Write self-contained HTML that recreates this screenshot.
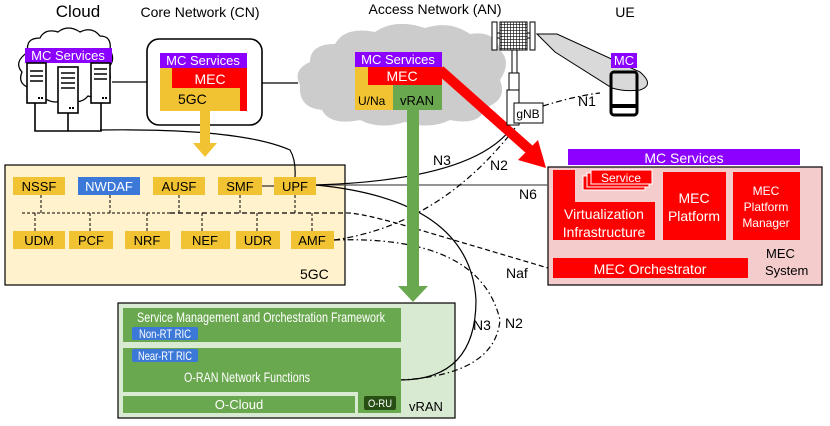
<!DOCTYPE html>
<html><head><meta charset="utf-8"><style>
html,body{margin:0;padding:0;background:#fff}
svg{display:block}
text{font-family:"Liberation Sans",sans-serif}
</style></head><body>
<svg width="830" height="426" viewBox="0 0 830 426" xmlns="http://www.w3.org/2000/svg">
<defs>
<pattern id="grid" width="3" height="3" patternUnits="userSpaceOnUse"><rect width="3" height="3" fill="#fff"/><path d="M0 0H3M0 0V3" stroke="#000" stroke-width="1.2"/></pattern>
</defs>
<text x="78" y="17" font-size="17" text-anchor="middle">Cloud</text>
<text x="200" y="17" font-size="14" text-anchor="middle">Core Network (CN)</text>
<text x="435" y="14" font-size="14" text-anchor="middle">Access Network (AN)</text>
<text x="625" y="17" font-size="14" text-anchor="middle">UE</text>

<line x1="112" y1="82" x2="147" y2="82" stroke="#000" stroke-width="1.3"/>
<line x1="262" y1="83" x2="298" y2="83" stroke="#000" stroke-width="1.3"/>

<path d="M28 52 Q25 38 40 38 Q45 28 58 32 Q68 24 80 32 Q92 26 100 36 Q112 36 110 50 Q116 60 108 68 Q114 80 104 88 Q100 100 88 96 Q80 106 66 98 Q56 106 44 98 Q30 100 30 88 Q17 84 22 72 Q13 62 28 52 Z" fill="#fff" stroke="#000" stroke-width="1.3"/>
<rect x="25" y="48" width="87" height="15" fill="#8b00ff"/>
<text x="68" y="60" font-size="13" fill="#fff" text-anchor="middle">MC Services</text>
<g stroke="#000" stroke-width="1.6" fill="#fff">
<rect x="27" y="63" width="19" height="40"/>
<rect x="58" y="67" width="20" height="46"/>
<rect x="91" y="63" width="19" height="40"/>
<path d="M35 103V131H101V103M68 113V131" fill="none"/>
<path d="M30 71h13M30 76h13M30 81h13M61 73h14M61 78h14M61 83h14M61 88h14M94 69h13M94 74h13M94 79h13" />
</g>
<g fill="#000"><rect x="38" y="97" width="2" height="2"/><rect x="41" y="97" width="2" height="2"/><rect x="69" y="107" width="2" height="2"/><rect x="72" y="107" width="2" height="2"/><rect x="102" y="97" width="2" height="2"/><rect x="105" y="97" width="2" height="2"/></g>

<rect x="147" y="39" width="115" height="86" rx="12" fill="#fff" stroke="#000" stroke-width="1.6"/>
<rect x="160" y="68" width="87" height="43" fill="#f1c232"/>
<path d="M172 68H247V111H240V88H172Z" fill="#f00"/>
<rect x="160" y="53" width="87" height="15" fill="#8b00ff"/>
<text x="203" y="65" font-size="13" fill="#fff" text-anchor="middle">MC Services</text>
<text x="210" y="84" font-size="14" fill="#fff" text-anchor="middle">MEC</text>
<text x="178" y="104" font-size="14">5GC</text>

<path d="M300 85 Q292 70 310 62 Q310 44 335 44 Q345 26 375 32 Q395 18 425 28 Q450 20 470 34 Q495 30 500 50 Q512 62 500 80 Q508 100 485 108 Q480 126 450 120 Q430 130 405 122 Q380 130 360 120 Q330 126 322 110 Q298 108 300 85 Z" fill="#cccccc"/>
<rect x="355" y="67" width="87" height="43" fill="#f1c232"/>
<rect x="368" y="67" width="74" height="18" fill="#f00"/>
<rect x="393" y="85" width="49" height="25" fill="#6aa84f"/>
<rect x="355" y="52" width="87" height="15" fill="#8b00ff"/>
<text x="398" y="64" font-size="13" fill="#fff" text-anchor="middle">MC Services</text>
<text x="402" y="81" font-size="14" fill="#fff" text-anchor="middle">MEC</text>
<text x="358" y="105" font-size="12">U/Na</text>
<text x="417" y="105" font-size="13" text-anchor="middle">vRAN</text>

<rect x="5" y="165" width="340" height="120" fill="#fff2cc" stroke="#000" stroke-width="1.2"/>
<rect x="548" y="167" width="274" height="118" fill="#f4cccc" stroke="#000" stroke-width="1.2"/>
<rect x="118" y="303" width="337" height="115" fill="#d9ead3" stroke="#000" stroke-width="1.2"/>

<g fill="none" stroke="#000" stroke-width="1.2">
<path d="M100 130 Q240 128 290 150 Q296 160 295 177"/>
<line x1="316" y1="185" x2="548" y2="185" stroke="#555"/>
<path d="M316 185 Q470 180 510 130"/>
<path d="M316 185 Q470 200 476 300 Q476 380 400 380"/>
<path d="M170 213 H345 Q360 212 420 230 L548 268" stroke-dasharray="5,3"/>
<path d="M334 240 Q440 225 515 128" stroke-dasharray="6,3,1.5,3"/>
<path d="M334 240 Q480 235 500 320 Q495 375 400 380" stroke-dasharray="6,3,1.5,3"/>
<path d="M543 106 Q575 96 600 93" stroke-dasharray="6,3,1.5,3"/>
</g>

<rect x="200" y="111" width="10" height="34" fill="#f1c232"/>
<polygon points="193,143 217,143 205,157" fill="#f1c232"/>
<rect x="407" y="110" width="12" height="178" fill="#6aa84f"/>
<polygon points="398,286 428,286 413,302" fill="#6aa84f"/>
<line x1="440" y1="70" x2="530" y2="150" stroke="#f00" stroke-width="10"/>
<polygon points="518,160 546,168 538,140" fill="#f00"/>

<g stroke="#000" stroke-width="1">
<path d="M537 34 L557 34 L640 72 Q655 85 640 90 Q625 92 612 88 L555 52 Z" fill="#d9d9d9"/>
<rect x="492" y="22" width="5" height="28" fill="#fff"/>
<rect x="530" y="22" width="5" height="28" fill="#fff"/>
<rect x="497" y="33" width="33" height="5" fill="#fff"/>
<rect x="500" y="22" width="27" height="28" fill="url(#grid)"/>
<rect x="512" y="50" width="5" height="23" fill="#fff"/>
<rect x="509" y="73" width="10" height="17" fill="#fff"/>
<rect x="507" y="90" width="12" height="35" fill="#fff"/>
<rect x="514" y="103" width="29" height="20" fill="#fff"/>
</g>
<text x="528" y="118" font-size="12" text-anchor="middle">gNB</text>
<text x="578" y="106" font-size="14">N1</text>
<rect x="611" y="72" width="26" height="43" rx="3" fill="none" stroke="#000" stroke-width="3"/>
<line x1="611" y1="106" x2="637" y2="106" stroke="#000" stroke-width="4"/>
<circle cx="624" cy="111" r="1.5" fill="#fff"/>
<rect x="611" y="53" width="26" height="15" fill="#8b00ff"/>
<text x="624" y="65" font-size="13" fill="#fff" text-anchor="middle">MC</text>

<g stroke="#000" stroke-width="1" stroke-dasharray="3,2" fill="none">
<path d="M22 213H170M41 195V213M110 195V213M179 195V213M240 195V213M295 195V213M35 213V231M90 213V231M147 213V231M202 213V231M257 213V231M312 213V231"/>
</g>
<line x1="262" y1="186" x2="274" y2="186" stroke="#000"/>
<g fill="#f1c232">
<rect x="13" y="177" width="52" height="18"/><rect x="153" y="177" width="52" height="18"/><rect x="218" y="177" width="44" height="18"/><rect x="274" y="177" width="42" height="18"/>
<rect x="13" y="231" width="52" height="18"/><rect x="69" y="231" width="44" height="18"/><rect x="125" y="231" width="45" height="18"/><rect x="181" y="231" width="49" height="18"/><rect x="236" y="231" width="44" height="18"/><rect x="291" y="231" width="43" height="18"/>
</g>
<rect x="78" y="177" width="62" height="18" fill="#3c78d8"/>
<g font-size="13" text-anchor="middle">
<text x="39" y="191">NSSF</text><text x="109" y="191" fill="#fff">NWDAF</text><text x="179" y="191">AUSF</text><text x="240" y="191">SMF</text><text x="295" y="191">UPF</text>
<text x="39" y="245">UDM</text><text x="91" y="245">PCF</text><text x="147" y="245">NRF</text><text x="205" y="245">NEF</text><text x="258" y="245">UDR</text><text x="312" y="245">AMF</text>
</g>
<text x="300" y="279" font-size="14">5GC</text>

<g font-size="14">
<text x="433" y="165">N3</text><text x="490" y="170">N2</text><text x="519" y="199">N6</text>
<text x="506" y="278">Naf</text><text x="473" y="330">N3</text><text x="505" y="328">N2</text>
</g>

<rect x="568" y="149" width="232" height="16" fill="#8b00ff"/>
<text x="684" y="163" font-size="14" fill="#fff" text-anchor="middle">MC Services</text>
<path d="M553 170H575V202H655V240H553Z" fill="#f00"/>
<rect x="583" y="176" width="62" height="14" fill="#f00" stroke="#fff" stroke-width="1"/>
<rect x="587" y="173" width="62" height="14" fill="#f00" stroke="#fff" stroke-width="1"/>
<rect x="591" y="170" width="61" height="14" fill="#f00" stroke="#fff" stroke-width="1"/>
<text x="621" y="182" font-size="12" fill="#fff" text-anchor="middle">Service</text>
<text x="604" y="219" font-size="14" fill="#fff" text-anchor="middle">Virtualization</text>
<text x="604" y="237" font-size="14" fill="#fff" text-anchor="middle">Infrastructure</text>
<rect x="663" y="172" width="63" height="68" fill="#f00"/>
<text x="694" y="203" font-size="14" fill="#fff" text-anchor="middle">MEC</text>
<text x="694" y="221" font-size="14" fill="#fff" text-anchor="middle">Platform</text>
<rect x="733" y="172" width="67" height="68" fill="#f00"/>
<text x="766" y="195" font-size="12" fill="#fff" text-anchor="middle">MEC</text>
<text x="766" y="211" font-size="12" fill="#fff" text-anchor="middle">Platform</text>
<text x="766" y="227" font-size="12" fill="#fff" text-anchor="middle">Manager</text>
<rect x="553" y="258" width="195" height="20" fill="#f00"/>
<text x="650" y="274" font-size="14" fill="#fff" text-anchor="middle">MEC Orchestrator</text>
<text x="766" y="258" font-size="13">MEC</text>
<text x="765" y="275" font-size="13">System</text>

<rect x="123" y="308" width="278" height="34" fill="#6aa84f"/>
<text x="137" y="322" font-size="14" fill="#fff" textLength="248" lengthAdjust="spacingAndGlyphs">Service Management and Orchestration Framework</text>
<rect x="132" y="327" width="66" height="13" rx="2" fill="#3c78d8"/>
<text x="139" y="338" font-size="12" fill="#fff" textLength="52" lengthAdjust="spacingAndGlyphs">Non-RT RIC</text>
<path d="M123 348H401V413H358V392H123Z" fill="#6aa84f"/>
<rect x="132" y="349" width="66" height="13" rx="2" fill="#3c78d8"/>
<text x="138" y="360" font-size="12" fill="#fff" textLength="54" lengthAdjust="spacingAndGlyphs">Near-RT RIC</text>
<text x="184" y="382" font-size="14" fill="#fff" textLength="126" lengthAdjust="spacingAndGlyphs">O-RAN Network Functions</text>
<rect x="123" y="396" width="232" height="17" fill="#6aa84f"/>
<text x="239" y="409" font-size="13" fill="#fff" text-anchor="middle">O-Cloud</text>
<rect x="364" y="396" width="32" height="14" rx="2" fill="#274e13"/>
<text x="368" y="407" font-size="11" fill="#fff" textLength="24" lengthAdjust="spacingAndGlyphs">O-RU</text>
<text x="409" y="411" font-size="13">vRAN</text>
</svg>
</body></html>
